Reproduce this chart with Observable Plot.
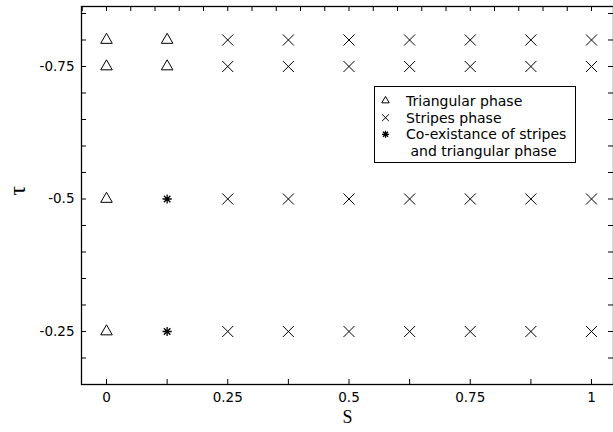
<!DOCTYPE html>
<html><head><meta charset="utf-8">
<script src="https://cdn.jsdelivr.net/npm/d3@7"></script>
<script src="https://cdn.jsdelivr.net/npm/@observablehq/plot@0.6"></script>
<style>html,body{margin:0;padding:0;background:#fff;overflow:hidden;}</style>
</head><body><div id="chart"></div>
<script>
// ---- data ----
const S_VALUES = [0, 0.125, 0.25, 0.375, 0.5, 0.625, 0.75, 0.875, 1];
const TAU_VALUES = [-0.8, -0.75, -0.5, -0.25];
// phase per tau row (T = triangular, S = stripes, C = co-existence)
const PHASES = [
  ["T","T","S","S","S","S","S","S","S"],
  ["T","T","S","S","S","S","S","S","S"],
  ["T","C","S","S","S","S","S","S","S"],
  ["T","C","S","S","S","S","S","S","S"]
];
const X_TICK_LABELS = [0, 0.25, 0.5, 0.75, 1];
const Y_TICK_LABELS = [-0.75, -0.5, -0.25];
const LEGEND_LABELS = ["Triangular phase", "Stripes phase", "Co-existance of stripes", " and triangular phase"];
const X_LABEL = "S";
const Y_LABEL = "τ";

// ---- build table ----
const points = [];
TAU_VALUES.forEach((tau, i) => S_VALUES.forEach((s, j) => points.push({s, tau, phase: PHASES[i][j]})));

const asterisk8 = {
  draw(context, size) {
    const r = Math.sqrt(size / Math.PI);
    const d = r * Math.SQRT1_2;
    context.moveTo(-r, 0); context.lineTo(r, 0);
    context.moveTo(0, -r); context.lineTo(0, r);
    context.moveTo(-d, -d); context.lineTo(d, d);
    context.moveTo(-d, d); context.lineTo(d, -d);
  }
};

const W = 613, H = 432, mL = 81, mR = 0, mT = 6, mB = 48;
const pw = W - mL - mR, ph = H - mT - mB;
const xTicksTop = d3.range(-1, 22).map(i => +(i * 0.05).toFixed(3));
const xTicksBottom = d3.range(0, 9).map(i => i * 0.125);
const yTicks = d3.range(3, 18).map(i => +(-i * 0.05).toFixed(3));

const plot = Plot.plot({
  width: W, height: H,
  marginLeft: mL, marginRight: mR, marginTop: mT, marginBottom: mB,
  style: {fontFamily: "DejaVu Sans", fontSize: "13.5px", color: "black", background: "white"},
  x: {domain: [-0.05155, 1.04536], axis: null},
  y: {domain: [-0.15, -0.8632], axis: null},
  marks: [
    Plot.frame({stroke: "black", strokeWidth: 1.3}),
    Plot.ruleX(xTicksBottom, {x: d => d, insetTop: ph - 5, stroke: "black"}),
    Plot.ruleX(xTicksTop, {x: d => d, insetBottom: ph - 5, stroke: "black"}),
    Plot.ruleY(yTicks, {y: d => d, insetRight: pw - 5, stroke: "black"}),
    Plot.ruleY(yTicks, {y: d => d, insetLeft: pw - 5, stroke: "black"}),
    Plot.axisX(X_TICK_LABELS, {anchor: "bottom", tickSize: 0, tickPadding: 8, tickFormat: d => String(d), label: null}),
    Plot.axisY(Y_TICK_LABELS, {anchor: "left", tickSize: 0, tickPadding: 7, tickFormat: d => String(d), label: null}),
    Plot.text([X_LABEL], {text: d => d, frameAnchor: "bottom", dy: 38, fontSize: 18, fontFamily: "Liberation Serif"}),
    Plot.text([Y_LABEL], {text: d => d, frameAnchor: "left", dx: -64.5, rotate: -90, fontSize: 24, fontFamily: "Liberation Serif"}),
    Plot.dot(points.filter(d => d.phase === "T"), {x: "s", y: "tau", symbol: "triangle", r: 4.3, stroke: "black", strokeWidth: 1}),
    Plot.dot(points.filter(d => d.phase === "S"), {x: "s", y: "tau", symbol: "times", r: 5.1, stroke: "black", strokeWidth: 1}),
    Plot.dot(points.filter(d => d.phase === "C"), {x: "s", y: "tau", symbol: asterisk8, r: 4.6, stroke: "black", strokeWidth: 1.3})
  ]
});

// ---- legend (inside the plot area, top right) ----
const svg = d3.select(plot);
const lg = svg.append("g").attr("font-family", "DejaVu Sans").attr("font-size", 14)
  .attr("fill", "black").attr("text-anchor", "start");
lg.append("rect").attr("x", 374.5).attr("y", 86.5).attr("width", 201).attr("height", 76)
  .attr("fill", "white").attr("stroke", "black").attr("stroke-width", 1);
const rowY = [100.7, 117.7, 134.3, 151];
const legendSyms = [
  d3.symbol(d3.symbolTriangle, 24),
  d3.symbol(d3.symbolTimes, 32),
  d3.symbol(asterisk8, 40),
  null
];
LEGEND_LABELS.forEach((t, i) => {
  if (legendSyms[i]) {
    lg.append("path").attr("d", legendSyms[i]()).attr("transform", `translate(385.5,${rowY[i]})`)
      .attr("fill", "none").attr("stroke", "black").attr("stroke-width", i === 2 ? 1.3 : 1);
  }
  lg.append("text").attr("x", 406).attr("y", rowY[i]).attr("dy", "0.35em")
    .attr("text-anchor", "start").style("white-space", "pre").text(t);
});

document.getElementById("chart").appendChild(plot);
</script>
</body></html>
